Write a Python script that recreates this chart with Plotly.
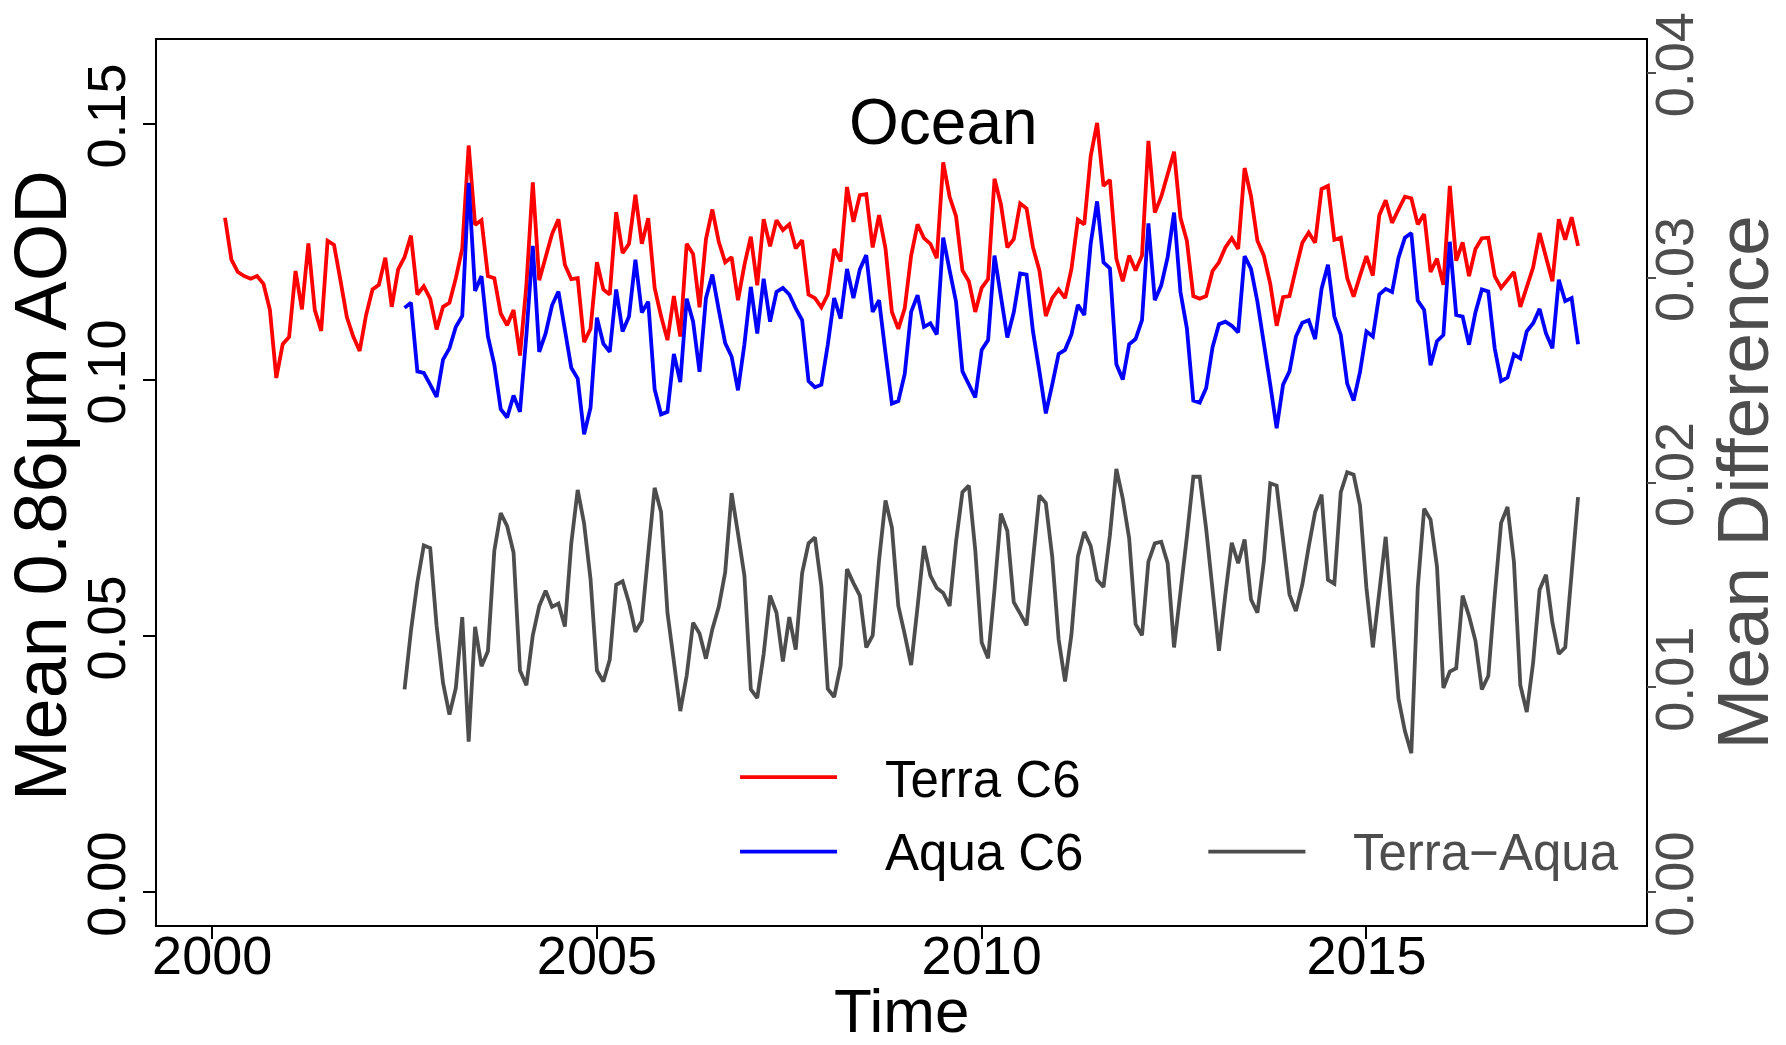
import plotly.graph_objects as go

# ---------------- data (monthly means) ----------------
# month index: 0 = Jan 2000
terra_start_month = 2     # Mar 2000
aqua_start_month = 30     # Jul 2002

terra_c6 = [
    0.1317, 0.1235, 0.1211, 0.1203, 0.1198, 0.1203, 0.1188, 0.1137, 0.1004, 0.1070,
    0.1084, 0.1213, 0.1138, 0.1267, 0.1137, 0.1096, 0.1272, 0.1264, 0.1195, 0.1123,
    0.1085, 0.1057, 0.1127, 0.1177, 0.1186, 0.1239, 0.1143, 0.1216, 0.1240, 0.1282,
    0.1167, 0.1183, 0.1159, 0.1099, 0.1143, 0.1151, 0.1199, 0.1257, 0.1458, 0.1303,
    0.1312, 0.1203, 0.1199, 0.1130, 0.1107, 0.1137, 0.1048, 0.1185, 0.1386, 0.1195,
    0.1240, 0.1285, 0.1314, 0.1225, 0.1197, 0.1199, 0.1074, 0.1100, 0.1230, 0.1177,
    0.1167, 0.1328, 0.1248, 0.1266, 0.1362, 0.1266, 0.1316, 0.1180, 0.1125, 0.1078,
    0.1164, 0.1085, 0.1266, 0.1246, 0.1142, 0.1275, 0.1333, 0.1270, 0.1230, 0.1240,
    0.1156, 0.1225, 0.1280, 0.1185, 0.1314, 0.1261, 0.1312, 0.1293, 0.1304, 0.1257,
    0.1273, 0.1167, 0.1160, 0.1142, 0.1167, 0.1256, 0.1232, 0.1377, 0.1309, 0.1361,
    0.1363, 0.1259, 0.1322, 0.1257, 0.1133, 0.1100, 0.1140, 0.1243, 0.1304, 0.1277,
    0.1266, 0.1238, 0.1425, 0.1358, 0.1320, 0.1214, 0.1193, 0.1133, 0.1180, 0.1197,
    0.1393, 0.1343, 0.1259, 0.1275, 0.1345, 0.1335, 0.1259, 0.1214, 0.1125, 0.1160,
    0.1177, 0.1160, 0.1217, 0.1313, 0.1304, 0.1437, 0.1502, 0.1379, 0.1391, 0.1237,
    0.1193, 0.1243, 0.1214, 0.1243, 0.1467, 0.1327, 0.1358, 0.1404, 0.1446, 0.1317,
    0.1272, 0.1164, 0.1159, 0.1164, 0.1213, 0.1230, 0.1259, 0.1277, 0.1256, 0.1414,
    0.1359, 0.1272, 0.1243, 0.1188, 0.1106, 0.1162, 0.1164, 0.1217, 0.1268, 0.1288,
    0.1268, 0.1373, 0.1379, 0.1274, 0.1278, 0.1199, 0.1163, 0.1204, 0.1242, 0.1204,
    0.1322, 0.1351, 0.1307, 0.1333, 0.1358, 0.1355, 0.1304, 0.1324, 0.1211, 0.1237,
    0.1186, 0.1379, 0.1233, 0.1269, 0.1203, 0.1256, 0.1277, 0.1278, 0.1203, 0.1180,
    0.1195, 0.1211, 0.1143, 0.1182, 0.1220, 0.1287, 0.1243, 0.1193, 0.1314, 0.1274,
    0.1318, 0.1262,
]

aqua_c6 = [
    0.1141, 0.1151, 0.1017, 0.1014, 0.0991, 0.0967, 0.1040, 0.1062, 0.1104, 0.1125,
    0.1385, 0.1174, 0.1203, 0.1085, 0.1030, 0.0943, 0.0927, 0.0970, 0.0938, 0.1088,
    0.1262, 0.1055, 0.1091, 0.1146, 0.1173, 0.1100, 0.1024, 0.1003, 0.0894, 0.0946,
    0.1122, 0.1071, 0.1055, 0.1177, 0.1095, 0.1124, 0.1235, 0.1132, 0.1153, 0.0982,
    0.0933, 0.0938, 0.1051, 0.0996, 0.1159, 0.1114, 0.1016, 0.1160, 0.1206, 0.1137,
    0.1072, 0.1046, 0.0980, 0.1070, 0.1182, 0.1091, 0.1198, 0.1114, 0.1172, 0.1180,
    0.1167, 0.1140, 0.1117, 0.0998, 0.0986, 0.0991, 0.1069, 0.1160, 0.1120, 0.1217,
    0.1160, 0.1216, 0.1244, 0.1133, 0.1156, 0.1053, 0.0954, 0.0959, 0.1012, 0.1133,
    0.1166, 0.1104, 0.1111, 0.1089, 0.1278, 0.1214, 0.1153, 0.1017, 0.0991, 0.0966,
    0.1059, 0.1078, 0.1243, 0.1166, 0.1083, 0.1132, 0.1208, 0.1206, 0.1095, 0.1017,
    0.0935, 0.0991, 0.1051, 0.1059, 0.1089, 0.1147, 0.1127, 0.1266, 0.1349, 0.1230,
    0.1218, 0.1031, 0.1001, 0.1070, 0.1080, 0.1117, 0.1306, 0.1156, 0.1185, 0.1240,
    0.1327, 0.1172, 0.1101, 0.0960, 0.0956, 0.0984, 0.1064, 0.1109, 0.1114, 0.1106,
    0.1093, 0.1242, 0.1217, 0.1153, 0.1075, 0.0991, 0.0906, 0.0991, 0.1017, 0.1085,
    0.1112, 0.1117, 0.1080, 0.1178, 0.1225, 0.1124, 0.1088, 0.0993, 0.0960, 0.1016,
    0.1095, 0.1085, 0.1167, 0.1178, 0.1172, 0.1239, 0.1278, 0.1287, 0.1155, 0.1137,
    0.1029, 0.1076, 0.1088, 0.1270, 0.1127, 0.1124, 0.1069, 0.1132, 0.1177, 0.1173,
    0.1062, 0.0998, 0.1005, 0.1050, 0.1042, 0.1095, 0.1111, 0.1139, 0.1091, 0.1062,
    0.1196, 0.1154, 0.1160, 0.1070,
]

terra_minus_aqua = [
    0.00990, 0.01276, 0.01513, 0.01693, 0.01680, 0.01300, 0.01022, 0.00867, 0.00997, 0.01343,
    0.00735, 0.01295, 0.01103, 0.01176, 0.01667, 0.01851, 0.01787, 0.01658, 0.01082, 0.01010,
    0.01254, 0.01397, 0.01472, 0.01393, 0.01409, 0.01297, 0.01703, 0.01964, 0.01800, 0.01529,
    0.01082, 0.01029, 0.01135, 0.01501, 0.01518, 0.01413, 0.01271, 0.01324, 0.01655, 0.01974,
    0.01856, 0.01364, 0.01126, 0.00884, 0.01058, 0.01316, 0.01263, 0.01140, 0.01284, 0.01393,
    0.01561, 0.01948, 0.01751, 0.01545, 0.00990, 0.00948, 0.01163, 0.01448, 0.01364, 0.01126,
    0.01343, 0.01184, 0.01558, 0.01703, 0.01732, 0.01493, 0.00993, 0.00953, 0.01106, 0.01577,
    0.01509, 0.01448, 0.01195, 0.01254, 0.01622, 0.01912, 0.01780, 0.01397, 0.01259, 0.01109,
    0.01393, 0.01690, 0.01545, 0.01485, 0.01461, 0.01397, 0.01711, 0.01953, 0.01985, 0.01670,
    0.01219, 0.01142, 0.01477, 0.01848, 0.01764, 0.01416, 0.01360, 0.01303, 0.01622, 0.01937,
    0.01900, 0.01638, 0.01235, 0.01029, 0.01259, 0.01638, 0.01759, 0.01690, 0.01525, 0.01490,
    0.01743, 0.02066, 0.01921, 0.01727, 0.01308, 0.01254, 0.01614, 0.01703, 0.01711, 0.01606,
    0.01195, 0.01453, 0.01735, 0.02028, 0.02028, 0.01775, 0.01477, 0.01179, 0.01453, 0.01706,
    0.01606, 0.01722, 0.01429, 0.01364, 0.01614, 0.01996, 0.01985, 0.01719, 0.01453, 0.01372,
    0.01501, 0.01687, 0.01856, 0.01941, 0.01525, 0.01506, 0.01953, 0.02050, 0.02038, 0.01888,
    0.01485, 0.01195, 0.01461, 0.01735, 0.01340, 0.00945, 0.00787, 0.00679, 0.01485, 0.01872,
    0.01819, 0.01590, 0.00997, 0.01077, 0.01093, 0.01448, 0.01348, 0.01227, 0.00990, 0.01055,
    0.01445, 0.01803, 0.01880, 0.01614, 0.01010, 0.00880, 0.01122, 0.01477, 0.01550, 0.01316,
    0.01163, 0.01195, 0.01558, 0.01929,
]

x_tick_vals = [2000, 2005, 2010, 2015]
x_tick_text = ["2000", "2005", "2010", "2015"]
y_tick_vals = [0.00, 0.05, 0.10, 0.15]
y_tick_text = ["0.00", "0.05", "0.10", "0.15"]
y2_tick_vals = [0.00, 0.01, 0.02, 0.03, 0.04]
y2_tick_text = ["0.00", "0.01", "0.02", "0.03", "0.04"]

# decimal-year time axis (R ts style)
t_terra = [2000 + (terra_start_month + i) / 12 for i in range(len(terra_c6))]
t_aqua = [2000 + (aqua_start_month + i) / 12 for i in range(len(aqua_c6))]
t_diff = [2000 + (aqua_start_month + i) / 12 for i in range(len(terra_minus_aqua))]

RED = "#FF0000"
BLUE = "#0000FF"
GRAY = "#4D4D4D"
SANS = "Liberation Sans, Arial, Helvetica, sans-serif"
LW = 3.8

fig = go.Figure()
fig.add_trace(go.Scatter(x=t_terra, y=terra_c6, mode="lines", name="Terra C6",
                         line=dict(color=RED, width=LW), yaxis="y"))
fig.add_trace(go.Scatter(x=t_aqua, y=aqua_c6, mode="lines", name="Aqua C6",
                         line=dict(color=BLUE, width=LW), yaxis="y"))
fig.add_trace(go.Scatter(x=t_diff, y=terra_minus_aqua, mode="lines", name="Terra\u2212Aqua",
                         line=dict(color=GRAY, width=LW), yaxis="y2"))

fig.update_layout(
    width=1786, height=1045,
    margin=dict(l=157, r=140, t=32, b=120),
    paper_bgcolor="white", plot_bgcolor="white",
    showlegend=False,
    xaxis=dict(
        range=[1999.283, 2018.633], tickmode="array", tickvals=x_tick_vals, ticktext=x_tick_text,
        ticks="outside", ticklen=12, tickwidth=1.5, tickcolor="black",
        ticklabelstandoff=-30,
        showline=True, linecolor="black", linewidth=2, mirror=True,
        showgrid=False, zeroline=False,
        tickfont=dict(family=SANS, size=54, color="black"),
    ),
    yaxis=dict(
        range=[-0.0064, 0.1664], tickmode="array", tickvals=y_tick_vals, ticktext=y_tick_text,
        tickangle=-90, ticks="outside", ticklen=12, tickwidth=1.5, tickcolor="black",
        ticklabelstandoff=-4,
        showline=True, linecolor="black", linewidth=2, mirror=True,
        showgrid=False, zeroline=False,
        tickfont=dict(family=SANS, size=54, color="black"),
    ),
    yaxis2=dict(
        overlaying="y", side="right",
        range=[-0.0016, 0.0416], tickmode="array", tickvals=y2_tick_vals, ticktext=y2_tick_text,
        tickangle=-90, ticks="outside", ticklen=9, tickwidth=1.5, tickcolor=GRAY,
        ticklabelstandoff=-28,
        showline=False, showgrid=False, zeroline=False,
        tickfont=dict(family=SANS, size=54, color=GRAY),
    ),
)

annotations = [
    dict(text="Ocean", x=2009.5, y=0.1504, xref="x", yref="y", showarrow=False,
         font=dict(family=SANS, size=64, color="black"), xanchor="center", yanchor="middle"),
    dict(text="Mean 0.86\u03bcm AOD", x=-0.0786, y=0.497, xref="paper", yref="paper",
         showarrow=False, textangle=-90, font=dict(family=SANS, size=74, color="black"),
         xanchor="center", yanchor="middle"),
    dict(text="Mean Difference", x=1.0651, y=0.50, xref="paper", yref="paper",
         showarrow=False, textangle=-90, font=dict(family=SANS, size=73, color=GRAY),
         xanchor="center", yanchor="middle"),
    dict(text="Time", x=0.5003, y=-0.097, xref="paper", yref="paper", showarrow=False,
         font=dict(family=SANS, size=62, color="black"), xanchor="center", yanchor="middle"),
    dict(text="Terra C6", x=2008.72, y=0.0221, xref="x", yref="y", showarrow=False,
         font=dict(family=SANS, size=51, color="black"), xanchor="left", yanchor="middle"),
    dict(text="Aqua C6", x=2008.72, y=0.0077, xref="x", yref="y", showarrow=False,
         font=dict(family=SANS, size=51, color="black"), xanchor="left", yanchor="middle"),
    dict(text="Terra\u2212Aqua", x=2014.80, y=0.0077, xref="x", yref="y", showarrow=False,
         font=dict(family=SANS, size=51, color=GRAY), xanchor="left", yanchor="middle"),
]
fig.update_layout(annotations=annotations)

legend_lines = [
    (2006.86, 2008.12, 0.02246, RED),
    (2006.86, 2008.12, 0.00794, BLUE),
    (2012.945, 2014.207, 0.00794, GRAY),
]
for x0, x1, yv, col in legend_lines:
    fig.add_shape(type="line", x0=x0, x1=x1, y0=yv, y1=yv, xref="x", yref="y",
                  line=dict(color=col, width=LW))

fig.write_html("out.html")
